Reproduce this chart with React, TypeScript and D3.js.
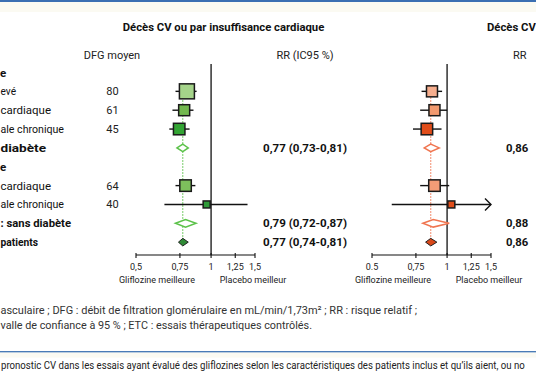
import React from "react";
import * as d3 from "d3";

const W = 536;
const H = 386;

// ---- data ----
// row labels as visible in the (left-cropped) reference
const rowLabels = [
  "e",
  "evé",
  "cardiaque",
  "ale chronique",
  "diabète",
  "e",
  "cardiaque",
  "ale chronique",
  ": sans diabète",
  "patients",
];
const rowKinds = ["header", "study", "study", "study", "pooled", "header", "study", "study", "pooled", "overall"];
const dfgValues: (number | null)[] = [null, 80, 61, 45, null, null, 64, 40, null, null];

const p1Rr: (number | null)[] = [null, 0.8, 0.78, 0.745, 0.77, null, 0.79, 0.96, 0.79, 0.77];
const p1Lo: (number | null)[] = [null, 0.72, 0.7, 0.68, 0.73, null, 0.72, 0.65, 0.72, 0.74];
const p1Hi: (number | null)[] = [null, 0.875, 0.85, 0.82, 0.81, null, 0.865, 1.4, 0.87, 0.81];
const p1Weight: (number | null)[] = [null, 15, 11, 11.5, null, null, 11.5, 7, null, null];
const p1Text = ["", "", "", "", "0,77 (0,73-0,81)", "", "", "", "0,79 (0,72-0,87)", "0,77 (0,74-0,81)"];
const p1Overall = 0.77;

const p2Rr: (number | null)[] = [null, 0.87, 0.89, 0.83, 0.86, null, 0.89, 1.04, 0.88, 0.86];
const p2Lo: (number | null)[] = [null, 0.79, 0.78, 0.73, 0.81, null, 0.78, 0.6, 0.8, 0.82];
const p2Hi: (number | null)[] = [null, 0.955, 1.0, 0.95, 0.93, null, 1.02, 1.8, 1.02, 0.91];
const p2Weight: (number | null)[] = [null, 11, 11, 11.5, null, null, 11.5, 7, null, null];
const p2Text = ["", "", "", "", "0,86", "", "", "", "0,88", "0,86"];
const p2Overall = 0.86;

const tickValues = [0.5, 0.75, 1, 1.25, 1.5];
const p1TickLabels = ["0,5", "0,75", "1", "1,25", "1,5"];
const p2TickLabels = ["0.5", "0,75", "1", "1,25", "1,5"];

const footnote1 = "asculaire ; DFG : débit de filtration glomérulaire en mL/min/1,73m² ; RR : risque relatif ;";
const footnote2 = "valle de confiance à 95 % ; ETC : essais thérapeutiques contrôlés.";
const caption = "pronostic CV dans les essais ayant évalué des gliflozines selon les caractéristiques des patients inclus et qu’ils aient, ou no";

const green = {
  fills: [null, "#a5d48a", "#72b94e", "#33a534", null, null, "#7dc05c", "#2e9a38", null, null],
  line: "#5cc24a",
  overall: "#2f8a36",
};
const orange = {
  fills: [null, "#f6ae8e", "#f2996e", "#e04d1a", null, null, "#f39c76", "#e04d1a", null, null],
  line: "#f07550",
  overall: "#d9481a",
};

// ---- layout ----
const labelEnds = [6, 16, 51, 64, 46, 6, 51, 64, 71, 38];
const rowY = (i: number) => 72.5 + i * 18.85;
const axisY = 255;
const refTop = 64;
const FONT = "Roboto, 'DejaVu Sans', sans-serif";

type PanelProps = {
  x: d3.ScaleLogarithmic<number, number>;
  rr: (number | null)[];
  lo: (number | null)[];
  hi: (number | null)[];
  weight: (number | null)[];
  colors: typeof green;
  overall: number;
  tickLabels: string[];
  leftLabel: [number, string];
  rightLabel: [number, string];
};

function Panel({ x, rr, lo, hi, weight, colors, overall, tickLabels, leftLabel, rightLabel }: PanelProps) {
  const [dMin, dMax] = x.domain();
  const x0 = x(dMin);
  const x1 = x(dMax);
  const firstRow = rr.findIndex((v) => v != null);
  const lastRow = rr.length - 1;
  return (
    <g>
      <line
        x1={x(overall)}
        x2={x(overall)}
        y1={rowY(firstRow)}
        y2={rowY(lastRow)}
        stroke={colors.line}
        strokeWidth={1.1}
        strokeDasharray="1.5,1.5"
      />
      <line x1={x(1)} x2={x(1)} y1={refTop} y2={axisY} stroke="#111" strokeWidth={1.3} />
      <line x1={x0} x2={x1} y1={axisY} y2={axisY} stroke="#111" strokeWidth={1.2} />
      {tickValues.map((t, i) => (
        <g key={t}>
          <line x1={x(t)} x2={x(t)} y1={axisY - 2} y2={axisY + 3} stroke="#111" strokeWidth={1.1} />
          <text x={x(t)} y={axisY + 15} textAnchor="middle" fontSize={9} fill="#222">
            {tickLabels[i]}
          </text>
        </g>
      ))}
      <text x={leftLabel[0]} y={axisY + 28} textAnchor="middle" fontSize={9} fill="#222">
        {leftLabel[1]}
      </text>
      <text x={rightLabel[0]} y={axisY + 28} textAnchor="middle" fontSize={9} fill="#222">
        {rightLabel[1]}
      </text>
      {rr.map((v, i) => {
        if (v == null) return null;
        const y = rowY(i);
        const kind = rowKinds[i];
        const l = lo[i] as number;
        const h = hi[i] as number;
        if (kind === "study") {
          const s = weight[i] as number;
          const over = h > dMax;
          const xr = x(Math.min(h, dMax));
          return (
            <g key={i}>
              <line x1={x(Math.max(l, dMin))} x2={xr} y1={y} y2={y} stroke="#111" strokeWidth={1.4} />
              {over && (
                <polyline
                  points={`${xr - 6},${y - 6} ${xr},${y} ${xr - 6},${y + 6}`}
                  fill="none"
                  stroke="#111"
                  strokeWidth={1.4}
                />
              )}
              <rect
                x={x(v) - s / 2}
                y={y - s / 2}
                width={s}
                height={s}
                fill={colors.fills[i] as string}
                stroke="#1a1a1a"
                strokeWidth={1.5}
              />
            </g>
          );
        }
        const d = `M${x(l)},${y} L${x(v)},${y - 3.8} L${x(h)},${y} L${x(v)},${y + 3.8} Z`;
        if (kind === "pooled") {
          return <path key={i} d={d} fill="#fff" stroke={colors.line} strokeWidth={1.5} />;
        }
        return <path key={i} d={d} fill={colors.overall} stroke="#222" strokeWidth={1} />;
      })}
    </g>
  );
}

export default function App() {
  const x1 = d3.scaleLog().domain([0.5, 1.5]).range([136, 255]);
  const x2 = d3.scaleLog().domain([0.5, 1.5]).range([372, 491]);

  return (
    <svg
      width={W}
      height={H}
      viewBox={`0 0 ${W} ${H}`}
      style={{ position: "absolute", left: 0, top: 0, background: "#fff" }}
      fontFamily={FONT}
    >
      <rect x={0} y={0} width={W} height={H} fill="#fff" />
      <rect x={0} y={2} width={W} height={10} fill="#fbfaf2" />
      <rect x={0} y={0} width={W} height={2} fill="#3b6fb2" />

      <text x={223.5} y={30.5} textAnchor="middle" fontSize={11.3} fontWeight={700} fill="#111">
        Décès CV ou par insuffisance cardiaque
      </text>
      <text x={487} y={30.5} textAnchor="start" fontSize={11.3} fontWeight={700} fill="#111">
        Décès CV
      </text>
      <text x={112} y={59} textAnchor="middle" fontSize={11} fill="#222">
        DFG moyen
      </text>
      <text x={305} y={59} textAnchor="middle" fontSize={11} fill="#222">
        RR (IC95 %)
      </text>
      <text x={513} y={59} textAnchor="start" fontSize={11} fill="#222">
        RR
      </text>

      {rowLabels.map((lab, i) => {
        const bold = rowKinds[i] !== "study";
        const fit = lab.length > 1;
        return (
          <text
            key={i}
            x={fit ? 0.5 : 0}
            y={rowY(i) + 4}
            textAnchor="start"
            fontSize={bold ? 11.5 : 11}
            fontWeight={bold ? 700 : 400}
            fill="#111"
            textLength={fit ? labelEnds[i] - 0.5 : undefined}
            lengthAdjust="spacingAndGlyphs"
          >
            {lab}
          </text>
        );
      })}
      {dfgValues.map((v, i) =>
        v == null ? null : (
          <text key={i} x={112.5} y={rowY(i) + 4} textAnchor="middle" fontSize={11} fill="#222">
            {v}
          </text>
        )
      )}
      {p1Text.map((t, i) =>
        t ? (
          <text
            key={i}
            x={263}
            y={rowY(i) + 4}
            textAnchor="start"
            fontSize={11.3}
            fontWeight={700}
            fill="#111"
            textLength={84}
            lengthAdjust="spacingAndGlyphs"
          >
            {t}
          </text>
        ) : null
      )}
      {p2Text.map((t, i) =>
        t ? (
          <text key={i} x={506} y={rowY(i) + 4} textAnchor="start" fontSize={11.3} fontWeight={700} fill="#111">
            {t}
          </text>
        ) : null
      )}

      <Panel
        x={x1}
        rr={p1Rr}
        lo={p1Lo}
        hi={p1Hi}
        weight={p1Weight}
        colors={green}
        overall={p1Overall}
        tickLabels={p1TickLabels}
        leftLabel={[157, "Gliflozine meilleure"]}
        rightLabel={[253, "Placebo meilleur"]}
      />
      <Panel
        x={x2}
        rr={p2Rr}
        lo={p2Lo}
        hi={p2Hi}
        weight={p2Weight}
        colors={orange}
        overall={p2Overall}
        tickLabels={p2TickLabels}
        leftLabel={[393, "Gliflozine meilleure"]}
        rightLabel={[489, "Placebo meilleur"]}
      />

      <text x={0.5} y={314} fontSize={11} fill="#333" textLength={416.5} lengthAdjust="spacingAndGlyphs">
        {footnote1}
      </text>
      <text x={0.5} y={329} fontSize={11} fill="#333" textLength={311.5} lengthAdjust="spacingAndGlyphs">
        {footnote2}
      </text>
      <rect x={0} y={351} width={W} height={1.6} fill="#4a7bb6" />
      <rect x={0} y={352.6} width={W} height={5} fill="#fbfaf2" />
      <g transform="translate(1,369) scale(0.875,1)">
        <text x={0} y={0} fontSize={11} fill="#222">
          {caption}
        </text>
      </g>
    </svg>
  );
}
